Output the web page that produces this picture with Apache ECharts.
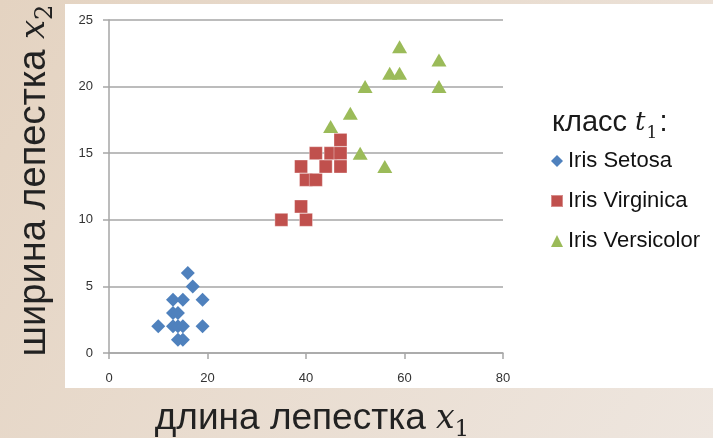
<!DOCTYPE html>
<html>
<head>
<meta charset="utf-8">
<script src="https://cdn.jsdelivr.net/npm/echarts@6/dist/echarts.min.js"></script>
<style>
html,body{margin:0;padding:0;}
#c{width:713px;height:438px;}
</style>
</head>
<body>
<div id="c"></div>
<script>
var seriesNames = ['Iris Setosa', 'Iris Virginica', 'Iris Versicolor'];
var setosaX = [16, 17, 13, 15, 19, 13, 14, 10, 13, 14, 15, 19, 14, 15];
var setosaY = [6, 5, 4, 4, 4, 3, 3, 2, 2, 2, 2, 2, 1, 1];
var virginicaX = [35, 40, 39, 39, 40, 42, 42, 44, 45, 47, 47, 47];
var virginicaY = [10, 10, 11, 14, 13, 13, 15, 14, 15, 16, 15, 14];
var versicolorX = [59, 67, 57, 59, 52, 67, 49, 45, 51, 56];
var versicolorY = [23, 22, 21, 21, 20, 20, 18, 17, 15, 14];
var xTicks = [0, 20, 40, 60, 80];
var yTicks = [0, 5, 10, 15, 20, 25];

function pairs(xs, ys) { return xs.map(function (x, i) { return [x, ys[i]]; }); }

var chart = echarts.init(document.getElementById('c'));
var sans = '"Liberation Sans", Arial, sans-serif';
var mathFont = '"DejaVu Serif", "Liberation Serif", serif';

function titleRich(size) {
  return {
    a: {fontFamily: sans, fontSize: size, color: '#222', lineHeight: 46, fontWeight: 'normal'},
    x: {fontFamily: mathFont, fontStyle: 'italic', fontSize: size - 4, color: '#222', lineHeight: 46, fontWeight: 'normal'},
    s: {fontFamily: mathFont, fontSize: Math.round(size * 0.62), color: '#222', lineHeight: 24, verticalAlign: 'bottom', fontWeight: 'normal'}
  };
}

chart.setOption({
  animation: false,
  backgroundColor: {
    type: 'linear', x: 0, y: 0, x2: 1, y2: 1,
    colorStops: [{offset: 0, color: '#E4D3C1'}, {offset: 1, color: '#EEE6DF'}]
  },
  graphic: [{
    type: 'rect', z: -10, silent: true,
    shape: {x: 65, y: 4, width: 648, height: 384},
    style: {fill: '#FFFFFF'}
  }],
  title: {
    left: 547, top: 99,
    text: '{a|класс }{t|t}{s|1}{a|:}',
    textStyle: {
      fontWeight: 'normal',
      rich: {
        a: {fontFamily: sans, fontSize: 29, color: '#1a1a1a', lineHeight: 38, fontWeight: 'normal'},
        t: {fontFamily: mathFont, fontStyle: 'italic', fontSize: 26, color: '#1a1a1a', lineHeight: 38, fontWeight: 'normal'},
        s: {fontFamily: mathFont, fontSize: 17, color: '#1a1a1a', lineHeight: 17, verticalAlign: 'bottom', padding: [0, 2, 0, 1], fontWeight: 'normal'}
      }
    }
  },
  legend: {
    orient: 'vertical', left: 545, top: 145,
    itemWidth: 12, itemHeight: 12, itemGap: 18,
    data: [
      {name: seriesNames[0], icon: 'diamond'},
      {name: seriesNames[1], icon: 'rect'},
      {name: seriesNames[2], icon: 'triangle'}
    ],
    textStyle: {fontFamily: sans, fontSize: 22, color: '#111', padding: [0, 0, 0, 0]}
  },
  grid: {left: 109, right: 210, top: 20, bottom: 85, containLabel: false, outerBoundsMode: 'none'},
  xAxis: {
    type: 'value', min: 0, max: 80, interval: 20,
    axisLine: {show: true, lineStyle: {color: '#A6A6A6', width: 1.5}},
    axisTick: {show: true, length: 6, lineStyle: {color: '#A6A6A6', width: 1.5}},
    splitLine: {show: false},
    axisLabel: {margin: 19, fontSize: 13, color: '#333', fontFamily: sans,
      formatter: function (v) { return xTicks.indexOf(v) >= 0 ? String(v) : ''; }},
    name: '{a|длина лепестка }{x|x}{s|1}',
    nameLocation: 'middle', nameGap: 43,
    nameTextStyle: {rich: titleRich(37), padding: [0, 0, 0, 12]}
  },
  yAxis: {
    type: 'value', min: 0, max: 25, interval: 5,
    axisLine: {show: true, lineStyle: {color: '#A6A6A6', width: 1.5}},
    axisTick: {show: true, length: 6, lineStyle: {color: '#A6A6A6', width: 1.5}},
    splitLine: {show: true, lineStyle: {color: '#A6A6A6', width: 1.5}},
    axisLabel: {margin: 16, fontSize: 13, color: '#333', fontFamily: sans,
      formatter: function (v) { return yTicks.indexOf(v) >= 0 ? String(v) : ''; }},
    name: '{a|ширина лепестка }{x|x}{s|2}',
    nameLocation: 'middle', nameGap: 51, nameRotate: 90,
    nameTextStyle: {rich: titleRich(38), padding: [0, 0, 0, 12]}
  },
  series: [
    {name: seriesNames[0], type: 'scatter', symbol: 'diamond', symbolSize: 14,
      itemStyle: {color: '#4F81BD', opacity: 1}, data: pairs(setosaX, setosaY)},
    {name: seriesNames[1], type: 'scatter', symbol: 'rect', symbolSize: 13,
      itemStyle: {color: '#C0504D', opacity: 1, borderColor: 'rgba(255,255,255,0.35)', borderWidth: 1}, data: pairs(virginicaX, virginicaY)},
    {name: seriesNames[2], type: 'scatter', symbol: 'triangle', symbolSize: [15, 13],
      itemStyle: {color: '#9BBB59', opacity: 1}, data: pairs(versicolorX, versicolorY)}
  ]
});
</script>
</body>
</html>
